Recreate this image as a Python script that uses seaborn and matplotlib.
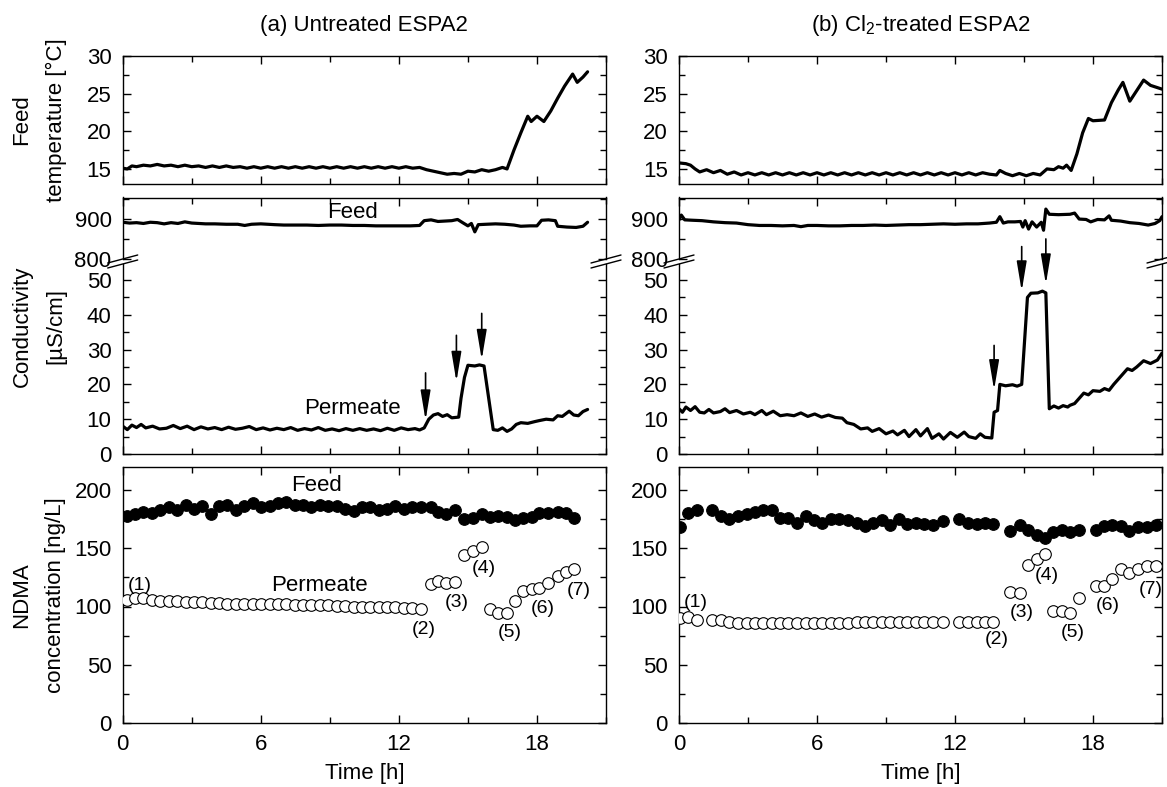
import matplotlib
matplotlib.use("Agg")
import matplotlib.pyplot as plt
from matplotlib.ticker import MultipleLocator
from matplotlib.lines import Line2D
import seaborn as sns

sns.set_theme(style="ticks")
plt.rcParams["font.family"] = ["Liberation Sans", "DejaVu Sans"]
plt.rcParams["mathtext.fontset"] = "custom"
plt.rcParams["mathtext.rm"] = "Liberation Sans"
for key in ["text.color", "axes.labelcolor", "xtick.color", "ytick.color", "axes.edgecolor"]:
    plt.rcParams[key] = "black"

# ---------------- data ----------------
# feed temperature, untreated (a)
temp_a_t = [0.0, 0.2, 0.4, 0.6, 0.9, 1.2, 1.5, 1.8, 2.1, 2.4,
            2.7, 3.0, 3.3, 3.6, 3.9, 4.2, 4.5, 4.8, 5.1, 5.4,
            5.7, 6.0, 6.3, 6.6, 6.9, 7.2, 7.5, 7.8, 8.1, 8.4,
            8.7, 9.0, 9.3, 9.6, 9.9, 10.2, 10.5, 10.8, 11.1, 11.4,
            11.7, 12.0, 12.3, 12.6, 12.9, 13.2, 13.5, 13.8, 14.1, 14.4,
            14.7, 15.0, 15.3, 15.6, 15.9, 16.2, 16.5, 16.7, 17.0, 17.3,
            17.6, 17.75, 18.0, 18.3, 18.6, 18.9, 19.2, 19.55, 19.75, 20.0, 20.2]
temp_a_v = [15.1, 15.0, 15.4, 15.3, 15.5, 15.4, 15.6, 15.4, 15.5, 15.3,
            15.5, 15.3, 15.4, 15.2, 15.4, 15.2, 15.4, 15.2, 15.3, 15.1,
            15.3, 15.1, 15.3, 15.1, 15.3, 15.1, 15.3, 15.1, 15.3, 15.1,
            15.3, 15.1, 15.3, 15.1, 15.3, 15.1, 15.3, 15.1, 15.3, 15.1,
            15.3, 15.1, 15.3, 15.1, 15.2, 14.9, 14.7, 14.5, 14.3, 14.4,
            14.3, 14.7, 14.6, 14.9, 14.7, 14.9, 15.2, 15.0, 17.5, 19.8,
            22.0, 21.3, 22.0, 21.3, 22.7, 24.4, 26.0, 27.6, 26.5, 27.2, 27.9]

# feed temperature, Cl2-treated (b)
temp_b_t = [0.0, 0.3, 0.5, 0.7, 0.9, 1.2, 1.5, 1.8, 2.1, 2.4,
            2.7, 3.0, 3.3, 3.6, 3.9, 4.2, 4.5, 4.8, 5.1, 5.4,
            5.7, 6.0, 6.3, 6.6, 6.9, 7.2, 7.5, 7.8, 8.1, 8.4,
            8.7, 9.0, 9.3, 9.6, 9.9, 10.2, 10.5, 10.8, 11.1, 11.4,
            11.7, 12.0, 12.3, 12.6, 12.9, 13.2, 13.5, 13.8, 13.95, 14.2,
            14.5, 14.8, 15.1, 15.4, 15.7, 16.0, 16.3, 16.5, 16.7, 16.85,
            17.05, 17.3, 17.55, 17.8, 18.0, 18.5, 18.8, 19.1, 19.3, 19.6,
            19.9, 20.2, 20.5, 20.8, 21.0]
temp_b_v = [15.8, 15.7, 15.5, 15.0, 14.6, 14.9, 14.5, 14.8, 14.3, 14.6,
            14.2, 14.5, 14.2, 14.5, 14.2, 14.5, 14.2, 14.5, 14.2, 14.5,
            14.2, 14.5, 14.2, 14.5, 14.2, 14.5, 14.2, 14.5, 14.2, 14.5,
            14.2, 14.5, 14.2, 14.5, 14.2, 14.5, 14.2, 14.5, 14.2, 14.5,
            14.2, 14.5, 14.2, 14.5, 14.2, 14.5, 14.3, 14.2, 14.8, 14.4,
            14.1, 14.4, 14.1, 14.4, 14.2, 15.0, 14.9, 15.3, 15.1, 15.5,
            14.8, 17.0, 19.8, 21.7, 21.4, 21.5, 23.8, 25.5, 26.5, 24.0,
            25.4, 26.8, 26.1, 25.8, 25.6]

# feed conductivity [uS/cm]
feed_a_t = [0, 0.3, 0.6, 0.9, 1.2, 1.5, 1.8, 2.1, 2.4, 2.7,
            3.0, 3.3, 3.6, 4.0, 4.5, 5.0, 5.3, 5.6, 6.0, 6.3,
            6.6, 7.0, 7.5, 8.0, 8.5, 9.0, 9.5, 10.0, 10.5, 11.0,
            11.5, 12.0, 12.5, 12.9, 13.1, 13.4, 13.7, 14.0, 14.3, 14.55,
            14.8, 15.0, 15.15, 15.3, 15.45, 15.8, 16.2, 16.6, 17.0, 17.3,
            17.7, 18.0, 18.2, 18.5, 18.8, 18.9, 19.3, 19.7, 20.0, 20.2]
feed_a_v = [892, 890, 891, 889, 892, 891, 888, 891, 889, 893,
            890, 889, 888, 888, 887, 887, 884, 887, 888, 887,
            886, 885, 885, 885, 884, 885, 885, 884, 884, 883,
            883, 883, 883, 884, 896, 898, 894, 895, 896, 899,
            890, 883, 889, 868, 886, 887, 888, 887, 885, 882,
            883, 883, 897, 898, 896, 882, 880, 879, 882, 892]

feed_b_t = [0, 0.1, 0.25, 0.6, 1.0, 1.5, 2.0, 2.5, 3.0, 3.5,
            4.0, 4.5, 5.0, 5.3, 5.6, 6.0, 6.5, 7.0, 7.5, 8.0,
            8.5, 9.0, 9.5, 10.0, 10.5, 11.0, 11.5, 12.0, 12.5, 13.0,
            13.5, 13.8, 13.95, 14.1, 14.3, 14.6, 14.85, 14.95, 15.05, 15.2,
            15.35, 15.55, 15.75, 15.85, 15.95, 16.1, 16.5, 17.0, 17.2, 17.4,
            17.7, 17.9, 18.2, 18.5, 18.7, 18.8, 19.2, 19.6, 20.0, 20.4,
            20.7, 20.9, 21.0]
feed_b_v = [898, 910, 898, 897, 896, 893, 891, 890, 886, 884,
            884, 883, 884, 881, 884, 884, 883, 883, 884, 884,
            885, 884, 885, 886, 886, 887, 888, 887, 888, 888,
            890, 892, 906, 890, 893, 893, 894, 880, 896, 875,
            893, 880, 892, 872, 925, 912, 911, 912, 915, 900,
            899, 893, 899, 898, 908, 897, 895, 891, 889, 885,
            889, 896, 906]

# permeate conductivity [uS/cm]
perm_a_t = [0, 0.2, 0.4, 0.6, 0.8, 1.0, 1.3, 1.6, 1.9, 2.2,
            2.5, 2.8, 3.1, 3.4, 3.7, 4.0, 4.3, 4.6, 4.9, 5.2,
            5.5, 5.8, 6.1, 6.4, 6.7, 7.0, 7.3, 7.6, 7.9, 8.2,
            8.5, 8.8, 9.1, 9.4, 9.7, 10.0, 10.3, 10.6, 10.9, 11.2,
            11.5, 11.8, 12.1, 12.4, 12.7, 12.9, 13.1, 13.3, 13.5, 13.7,
            13.9, 14.1, 14.3, 14.6, 14.7, 14.85, 15.0, 15.3, 15.5, 15.7,
            16.1, 16.3, 16.5, 16.7, 16.9, 17.1, 17.3, 17.6, 17.9, 18.1,
            18.4, 18.7, 18.9, 19.1, 19.4, 19.6, 19.8, 20.0, 20.2]
perm_a_v = [8.0, 7.0, 8.3, 7.6, 8.5, 7.5, 8.0, 7.2, 7.4, 8.2,
            7.3, 8.0, 7.0, 7.8, 7.2, 7.6, 7.0, 7.7, 7.1, 7.4,
            7.9, 7.0, 7.5, 6.9, 7.4, 7.0, 7.6, 6.8, 7.3, 6.9,
            7.6, 6.8, 7.2, 6.7, 7.3, 6.8, 7.3, 6.8, 7.2, 6.7,
            7.4, 6.8, 7.5, 7.0, 7.3, 6.9, 7.5, 10.0, 11.2, 11.6,
            10.8, 11.3, 10.4, 10.6, 16.0, 22.0, 25.5, 25.3, 25.6, 25.3,
            7.0, 6.8, 7.5, 6.5, 7.2, 8.5, 9.0, 8.8, 9.3, 9.6,
            10.0, 9.8, 11.0, 10.8, 12.3, 11.2, 11.0, 12.2, 12.8]

perm_b_t = [0, 0.15, 0.3, 0.5, 0.7, 0.9, 1.1, 1.3, 1.5, 1.8,
            2.0, 2.2, 2.5, 2.8, 3.1, 3.3, 3.6, 3.8, 4.1, 4.4,
            4.7, 5.0, 5.3, 5.6, 5.9, 6.2, 6.5, 6.8, 7.1, 7.3,
            7.6, 7.9, 8.2, 8.4, 8.7, 9.0, 9.3, 9.5, 9.8, 10.0,
            10.3, 10.5, 10.8, 11.0, 11.3, 11.5, 11.8, 12.1, 12.4, 12.6,
            12.9, 13.1, 13.3, 13.6, 13.7, 13.85, 13.95, 14.2, 14.5, 14.7,
            14.9, 15.05, 15.15, 15.3, 15.6, 15.8, 15.95, 16.1, 16.3, 16.5,
            16.7, 16.9, 17.0, 17.2, 17.4, 17.6, 17.8, 18.0, 18.3, 18.5,
            18.7, 18.9, 19.1, 19.3, 19.5, 19.7, 19.9, 20.2, 20.5, 20.8, 21.0]
perm_b_v = [13.0, 12.0, 13.5, 12.5, 13.6, 12.0, 11.8, 12.8, 11.8, 12.2,
            13.0, 11.9, 12.5, 11.5, 12.0, 11.3, 12.5, 11.3, 12.3, 11.0,
            11.3, 11.0, 11.8, 10.8, 11.5, 10.6, 11.2, 10.5, 10.3, 9.0,
            8.5, 7.2, 7.5, 6.5, 7.3, 5.8, 6.6, 5.5, 6.8, 5.0,
            7.0, 5.2, 7.3, 4.5, 5.8, 4.3, 6.2, 4.8, 6.3, 5.0,
            4.5, 5.8, 4.8, 4.6, 12.0, 12.5, 20.0, 19.6, 19.9, 19.5,
            20.0, 35.0, 45.0, 46.2, 46.3, 46.8, 46.3, 13.0, 13.8, 13.2,
            13.9, 13.5, 14.0, 14.5, 16.0, 17.5, 17.0, 18.2, 18.0, 18.8,
            18.3, 20.0, 21.5, 23.0, 24.5, 24.0, 25.0, 26.8, 26.0, 27.0, 29.0]

# NDMA [ng/L], untreated (a)
ndma_a_perm_t = [0.17, 0.54, 0.9, 1.27, 1.63, 2.0, 2.36, 2.73, 3.09, 3.46,
                 3.82, 4.19, 4.55, 4.92, 5.28, 5.65, 6.01, 6.38, 6.74, 7.11,
                 7.47, 7.84, 8.2, 8.57, 8.93, 9.3, 9.66, 10.03, 10.39, 10.76,
                 11.12, 11.49, 11.85, 12.22, 12.58, 12.95,
                 13.4, 13.7, 14.05, 14.45, 14.85, 15.2, 15.6, 15.95, 16.3, 16.7,
                 17.06, 17.4, 17.77, 18.1, 18.5, 18.9, 19.27, 19.6]
ndma_a_perm_v = [106, 107, 107, 106, 105, 105, 104.5, 104, 104, 103.5,
                 103, 103, 102.5, 102.5, 102.5, 102, 102, 102, 102, 102,
                 101.5, 101.5, 101, 101, 101, 100.5, 100.5, 100, 100, 100,
                 100, 100, 99.5, 99, 99, 97.5,
                 119.5, 122, 120.5, 121, 144.5, 148, 151, 98, 94.5, 94.5,
                 105, 113, 115, 116, 120.5, 126.5, 130, 132]
ndma_a_feed_t = ndma_a_perm_t
ndma_a_feed_v = [178, 179, 181, 180, 183, 185, 183, 187, 184, 186,
                 179, 186, 187, 183, 186, 189, 185, 186, 189, 190,
                 187, 187, 185, 187, 186, 186, 184, 182, 185, 185,
                 183, 184, 186, 184, 185, 185,
                 185, 181, 179, 183, 175, 176, 179, 177, 178, 177,
                 174, 176, 177, 180, 180, 181, 180, 176]

# NDMA [ng/L], Cl2-treated (b)
ndma_b_t = [0.05, 0.41, 0.77,
            1.42, 1.81, 2.17, 2.56, 2.94, 3.30, 3.67, 4.05, 4.40, 4.76,
            5.14, 5.50, 5.87, 6.23, 6.61, 6.97, 7.36, 7.72, 8.09, 8.45,
            8.83, 9.18, 9.56, 9.92, 10.29, 10.65, 11.03, 11.47,
            12.19, 12.56, 12.94, 13.30, 13.67,
            14.40, 14.81, 15.17, 15.55, 15.91, 16.26, 16.64, 17.01, 17.39,
            18.11, 18.48, 18.84, 19.22, 19.58, 19.95, 20.34, 20.72]
ndma_b_perm_v = [90, 91, 88,
                 88, 88, 87, 86, 85.5, 85.5, 85.5, 86, 86, 86,
                 86, 86, 86, 86, 86, 86, 86, 86.5, 87, 87,
                 87, 87, 87, 87, 87, 87, 87, 87,
                 87, 87, 87, 87, 87,
                 112.5, 112, 136, 141, 145, 96.5, 96, 94.5, 107,
                 118, 118, 124, 132, 129, 132.5, 134.5, 134.5]
ndma_b_feed_v = [168.5, 180.5, 183,
                 183, 178, 175, 178, 179, 181, 183, 183, 176, 176,
                 172, 178, 174, 172, 175, 175, 174, 172, 169, 172,
                 174, 170, 175, 171, 172, 171, 170, 173,
                 175, 172, 171, 172, 171,
                 165, 170, 166, 161, 159, 164, 166, 164, 166,
                 166, 169, 170, 169, 165, 168, 168, 170]

sample_labels = ["(1)", "(2)", "(3)", "(4)", "(5)", "(6)", "(7)"]
label_a_x = [0.75, 13.1, 14.5, 15.7, 16.8, 18.25, 19.8]
label_a_y = [118, 80.5, 103.5, 133, 77.5, 98, 114]
label_b_x = [0.73, 13.8, 14.9, 16.0, 17.1, 18.65, 20.5]
label_b_y = [103.5, 71.5, 95, 126.5, 77.5, 101, 114.5]

# arrows on permeate conductivity: (time, start value, tip value)
arrows_a = [(13.16, 23.3, 9.7), (14.5, 34.1, 20.8), (15.6, 40.4, 27.1)]
arrows_b = [(13.7, 31.2, 18.4), (14.9, 59.6, 46.8), (15.95, 61.8, 48.8)]

titles = ["(a) Untreated ESPA2", r"(b) Cl$_\mathregular{2}$-treated ESPA2"]

# ---------------- figure ----------------
W, H = 1167, 787
fig = plt.figure(figsize=(W / 100, H / 100), dpi=100)


def add_axes_px(left, top, right, bottom):
    return fig.add_axes([left / W, 1 - bottom / H, (right - left) / W, (bottom - top) / H])


def style_axis(ax, ymaj, ymin, ylim):
    ax.set_xlim(0, 21)
    ax.set_ylim(*ylim)
    ax.xaxis.set_major_locator(MultipleLocator(6))
    ax.xaxis.set_minor_locator(MultipleLocator(3))
    ax.yaxis.set_major_locator(MultipleLocator(ymaj))
    ax.yaxis.set_minor_locator(MultipleLocator(ymin))
    ax.tick_params(which="both", direction="in", top=True, right=True,
                   labelsize=16, pad=8, width=1.0, colors="black")
    ax.tick_params(which="major", length=6)
    ax.tick_params(which="minor", length=4)
    for s in ax.spines.values():
        s.set_linewidth(1.0)
        s.set_color("black")
    ax.set_xlabel("")
    ax.set_ylabel("")


columns = [(122.7, 606), (679, 1162)]
line_kw = dict(color="black", linewidth=2.3, estimator=None, sort=False)

temp_data = [(temp_a_t, temp_a_v), (temp_b_t, temp_b_v)]
feed_data = [(feed_a_t, feed_a_v), (feed_b_t, feed_b_v)]
perm_data = [(perm_a_t, perm_a_v), (perm_b_t, perm_b_v)]
ndma_data = [(ndma_a_perm_t, ndma_a_perm_v, ndma_a_feed_t, ndma_a_feed_v),
             (ndma_b_t, ndma_b_perm_v, ndma_b_t, ndma_b_feed_v)]
label_pos = [(label_a_x, label_a_y), (label_b_x, label_b_y)]
arrow_sets = [arrows_a, arrows_b]

for col, (x0, x1) in enumerate(columns):
    # temperature
    ax_t = add_axes_px(x0, 56, x1, 184)
    sns.lineplot(x=temp_data[col][0], y=temp_data[col][1], ax=ax_t, **line_kw)
    style_axis(ax_t, 5, 2.5, (13, 30))
    ax_t.tick_params(labelbottom=False)
    fig.text((x0 + x1) / 2 / W, 1 - 25 / H, titles[col], ha="center", va="center", fontsize=16)

    # feed conductivity (upper part of broken axis)
    ax_f = add_axes_px(x0, 197.5, x1, 259)
    sns.lineplot(x=feed_data[col][0], y=feed_data[col][1], ax=ax_f, **line_kw)
    style_axis(ax_f, 100, 50, (800, 954))
    ax_f.spines["bottom"].set_visible(False)
    ax_f.tick_params(which="both", bottom=False, labelbottom=False)

    # permeate conductivity (lower part)
    ax_p = add_axes_px(x0, 264, x1, 454)
    sns.lineplot(x=perm_data[col][0], y=perm_data[col][1], ax=ax_p, **line_kw)
    style_axis(ax_p, 10, 5, (0, 54.6))
    ax_p.spines["top"].set_visible(False)
    ax_p.tick_params(which="both", top=False, labelbottom=False)

    for (tx, y_start, y_tip) in arrow_sets[col]:
        ax_p.annotate("", xy=(tx, y_tip), xytext=(tx, y_start),
                      arrowprops=dict(arrowstyle="-|>,head_length=0.9,head_width=0.15",
                                      color="black", lw=1.2, mutation_scale=20,
                                      shrinkA=0, shrinkB=0),
                      annotation_clip=False)

    # break marks
    for xs in (x0, x1):
        for yc in (259.0, 264.0):
            fig.add_artist(Line2D([(xs - 15) / W, (xs + 15) / W],
                                  [1 - (yc + 4) / H, 1 - (yc - 4) / H],
                                  color="black", lw=1.0))

    # NDMA
    ax_n = add_axes_px(x0, 466.7, x1, 723)
    pt, pv, ft, fv = ndma_data[col]
    sns.scatterplot(x=ft, y=fv, ax=ax_n, s=70, color="black", edgecolor="black",
                    linewidth=0.8, zorder=3)
    sns.scatterplot(x=pt, y=pv, ax=ax_n, s=70, color="white", edgecolor="black",
                    linewidth=0.8, zorder=3)
    style_axis(ax_n, 50, 25, (0, 220))
    fig.text((x0 + x1) / 2 / W, 1 - 773 / H, "Time [h]", ha="center", va="center", fontsize=16)

    lx, ly = label_pos[col]
    for txt, xx, yy in zip(sample_labels, lx, ly):
        ax_n.text(xx, yy, txt, ha="center", va="center", fontsize=14)

    if col == 0:
        ax_f.text(10.0, 916, "Feed", ha="center", va="center", fontsize=16)
        ax_p.text(10.0, 13.2, "Permeate", ha="center", va="center", fontsize=16)
        ax_n.text(8.4, 204, "Feed", ha="center", va="center", fontsize=16)
        ax_n.text(8.55, 118, "Permeate", ha="center", va="center", fontsize=16)

# y-axis titles
ylabels = [("Feed\ntemperature [°C]", 120), ("Conductivity\n[µS/cm]", 326),
           ("NDMA\nconcentration [ng/L]", 595)]
for txt, yc in ylabels:
    fig.text(39 / W, 1 - yc / H, txt, rotation=90, ha="center", va="center",
             fontsize=16, linespacing=1.8, multialignment="center")

fig.savefig("out.png", dpi=100)
